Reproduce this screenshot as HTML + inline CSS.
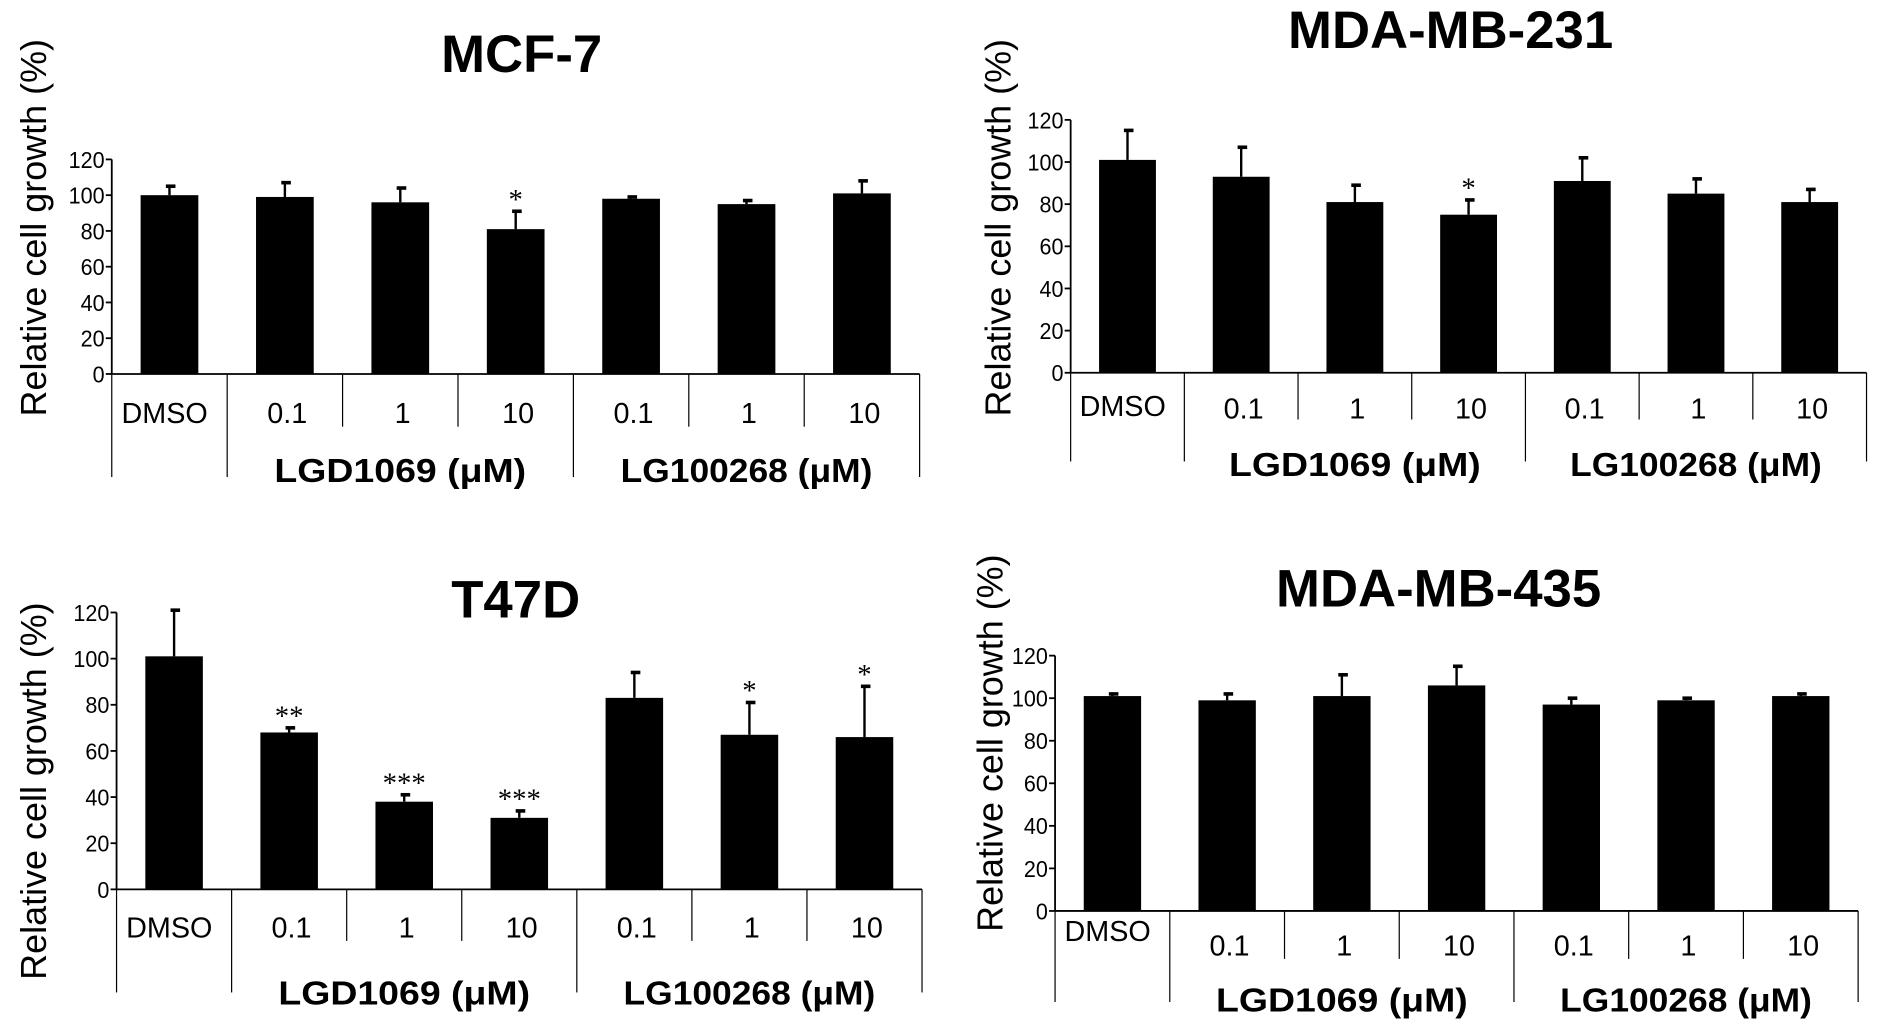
<!DOCTYPE html>
<html><head><meta charset="utf-8"><style>
html,body{margin:0;padding:0;background:#fff;}
svg{display:block;font-family:"Liberation Sans",Arial,sans-serif;}
</style></head><body>
<svg id="fig" width="1880" height="1032" viewBox="0 0 1568 861" xmlns="http://www.w3.org/2000/svg"></svg>
<script>
const categories = ["DMSO","0.1","1","10","0.1","1","10"];
const groupLabels = ["LGD1069 (μM)","LG100268 (μM)"];
const yTicks = [0,20,40,60,80,100,120];
const mcf7Values = [100,99,96,81,98,95,101];
const mcf7Errors = [5,8,8,10,1,2,7];
const mcf7Sig = ["","","","*","","",""];
const mda231Values = [101,93,81,75,91,85,81];
const mda231Errors = [14,14,8,7,11,7,6];
const mda231Sig = ["","","","*","","",""];
const t47dValues = [101,68,38,31,83,67,66];
const t47dErrors = [20,2,3,3,11,14,22];
const t47dSig = ["","**","***","***","","*","*"];
const mda435Values = [101,99,101,106,97,99,101];
const mda435Errors = [1,3,10,9,3,1,1];
const mda435Sig = ["","","","","","",""];

const NS="http://www.w3.org/2000/svg";
const svg=document.getElementById('fig');
function mk(tag,attrs,parent){const e=document.createElementNS(NS,tag);for(const k in attrs)e.setAttribute(k,attrs[k]);(parent||svg).appendChild(e);return e;}

function panel(cfg,vals,errs,sig){
  const g=mk('g',{});
  
  
  const yScale=v=>cfg.y0-(v/120)*(cfg.y0-cfg.y120);
  const step=(cfg.xEnd-cfg.x0)/7;
  const xc=i=>cfg.x0+step*(i+0.5);
  const t=mk('text',{x:cfg.tx,y:cfg.ty,'text-anchor':'middle','font-size':44,'font-weight':'bold'},g);
  t.textContent=cfg.title;
  
  
  const yt=mk('text',{x:0,y:0,'text-anchor':'middle','font-size':30,transform:`translate(${cfg.yx},${cfg.yty}) rotate(-90)`},g);
  yt.textContent="Relative cell growth (%)";
  
  
  const ax=mk('line',{x1:cfg.x0,y1:yScale(120),x2:cfg.x0,y2:cfg.y0,stroke:'#000','stroke-width':1.5},g);
  
  
  yTicks.forEach(v=>{
    mk('line',{x1:cfg.x0-5,y1:yScale(v),x2:cfg.x0,y2:yScale(v),stroke:'#000','stroke-width':1.5},g);
    const tl=mk('text',{x:cfg.x0-6,y:yScale(v)+7,'text-anchor':'end','font-size':19,'textLength':v>=100?30:(v>0?20:10),'lengthAdjust':'spacingAndGlyphs'},g);
    tl.textContent=v;
    
    
  });
  const xa=mk('line',{x1:cfg.x0,y1:cfg.y0,x2:cfg.xEnd,y2:cfg.y0,stroke:'#000','stroke-width':1.5},g);
  
  
  for(let i=0;i<=7;i++){
    const x=cfg.x0+step*i;
    const long=(i===0||i===1||i===4||i===7);
    mk('line',{x1:x,y1:cfg.y0,x2:x,y2:long?cfg.longY:cfg.shortY,stroke:'#000','stroke-width':1},g);
  }
  const bw=step*0.5;
  vals.forEach((v,i)=>{
    const top=yScale(v);
    const el=mk('line',{x1:xc(i),y1:top,x2:xc(i),y2:yScale(v+errs[i]),stroke:'#000','stroke-width':2},g);
    
    
    mk('line',{x1:xc(i)-3,y1:yScale(v+errs[i]),x2:xc(i)+5,y2:yScale(v+errs[i]),stroke:'#000','stroke-width':3},g);
    const b=mk('rect',{x:xc(i)-bw/2,y:top,width:bw,height:cfg.y0-top,fill:'#000'},g);
    
    
    if(sig[i]){
      const s=mk('text',{x:xc(i),y:yScale(v+errs[i])-2,'text-anchor':'middle','font-size':24,'font-family':'Liberation Serif,serif'},g);
      s.textContent=sig[i];
      
      
    }
    const cl=mk('text',{x:xc(i)+(i===0?-4:2),y:i===0?cfg.catY-(cfg.dmsoUp||0):cfg.catY,'text-anchor':'middle','font-size':24},g);
    cl.textContent=categories[i];
    
    
  });
  groupLabels.forEach((lab,j)=>{
    const gl=mk('text',{x:xc(j===0?2:5),y:cfg.grpY,'text-anchor':'middle','font-size':28,'font-weight':'bold','textLength':210,'lengthAdjust':'spacingAndGlyphs'},g);
    gl.textContent=lab;
    
    
  });
}
panel({id:'mcf7',title:'MCF-7',tx:435,ty:60,yx:38,yty:190,x0:93,xEnd:767,y0:312,y120:133,catY:353,shortY:356,longY:398,grpY:402},mcf7Values,mcf7Errors,mcf7Sig);
panel({id:'mda231',title:'MDA-MB-231',tx:1210,ty:40,yx:843,yty:190,x0:893,xEnd:1557,y0:311,y120:100,catY:349,dmsoUp:2,shortY:350,longY:385,grpY:397},mda231Values,mda231Errors,mda231Sig);
panel({id:'t47d',title:'T47D',tx:430,ty:515,yx:38,yty:660,x0:97,xEnd:769,y0:742,y120:511,catY:782,shortY:785,longY:828,grpY:838},t47dValues,t47dErrors,t47dSig);
panel({id:'mda435',title:'MDA-MB-435',tx:1200,ty:506,yx:836,yty:620,x0:880,xEnd:1550,y0:760,y120:547,catY:797,dmsoUp:12,shortY:800,longY:836,grpY:844},mda435Values,mda435Errors,mda435Sig);
</script>
</body></html>
